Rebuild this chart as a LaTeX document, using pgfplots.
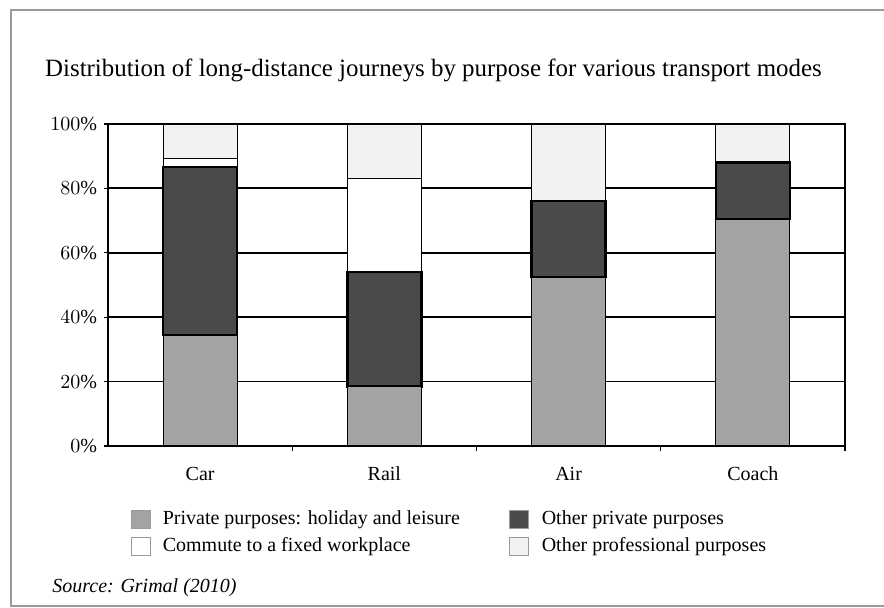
\documentclass[border=0pt]{standalone}
\usepackage{fontspec}
\setmainfont{Liberation Serif}
\usepackage{pgfplots}
\pgfplotsset{compat=1.18}
\definecolor{cGray}{HTML}{A3A3A3}
\definecolor{cDark}{HTML}{4A4A4A}
\definecolor{cLight}{HTML}{F2F2F2}
\definecolor{cFrame}{HTML}{9A9A9A}
\newcommand{\lbl}{\fontsize{10}{12}\selectfont}
\begin{document}
\begin{tikzpicture}
\useasboundingbox (0,0) rectangle (442pt,-304pt);
\draw[cFrame, line width=0.7pt] (442pt,-5pt) -- (5.5pt,-5pt) -- (5.5pt,-303pt) -- (442pt,-303pt);
\node[font=\fontsize{12.45}{14}\selectfont] at (216.75pt,-35pt) {Distribution of long-distance journeys by purpose for various transport modes};
\begin{axis}[
  at={(54pt,-223pt)}, anchor=south west,
  scale only axis, width=368.5pt, height=161pt,
  ybar stacked, bar width=37pt,
  xmin=-0.5, xmax=3.5, ymin=0, ymax=100,
  xtick={0,1,2,3}, xticklabels={Car,Rail,Air,Coach},
  x tick style={draw=none},
  extra x ticks={0.5,1.5,2.5,3.5}, extra x tick labels={},
  extra x tick style={x tick style={draw=black, line width=0.6pt}, major tick length=2.5pt, tick align=outside, grid=none, xtick pos=bottom},
  ytick={0,20,...,100},
  yticklabel={\pgfmathprintnumber{\tick}\%},
  ytick pos=left,
  y tick style={draw=black, line width=0.6pt}, major tick length=2pt, tick align=outside,
  ymajorgrids, grid style={black, line width=0.9pt},
  axis line style={black, line width=0.7pt},
  tick label style={font=\lbl},
  xticklabel style={yshift=-5pt},
  legend columns=2,
  legend cell align=left,
  legend style={at={(0.03,-0.185)}, anchor=north west, draw=none, inner sep=0pt, font=\lbl,
    row sep=0pt,
    nodes={text height=7pt, text depth=2pt, inner sep=2.25pt},
    /tikz/every odd column/.append style={column sep=4pt},
    /tikz/every even column/.append style={column sep=22.5pt}},
  legend image code/.code={\draw[#1, draw=cFrame, line width=0.4pt] (0pt,-4.5pt) rectangle (9.5pt,4.5pt);},
]
\addplot[fill=cGray, draw=black, line width=0.6pt] coordinates {(0,34.5) (1,18.5) (2,52.5) (3,70.5)};
\addplot[fill=cDark, draw=black, line width=1.2pt] coordinates {(0,52.2) (1,35.5) (2,23.5) (3,17.5)};
\addplot[fill=white, draw=black, line width=0.6pt] coordinates {(0,2.7) (1,29) (2,0) (3,0)};
\addplot[fill=cLight, draw=black, line width=0.6pt] coordinates {(0,10.6) (1,17) (2,24) (3,12)};
\legend{Private purposes: holiday and leisure, Other private purposes, Commute to a fixed workplace, Other professional purposes}
\end{axis}
\node[anchor=west, inner sep=0pt, font=\lbl\itshape] at (26pt,-294pt) {Source: Grimal (2010)};
\end{tikzpicture}
\end{document}
